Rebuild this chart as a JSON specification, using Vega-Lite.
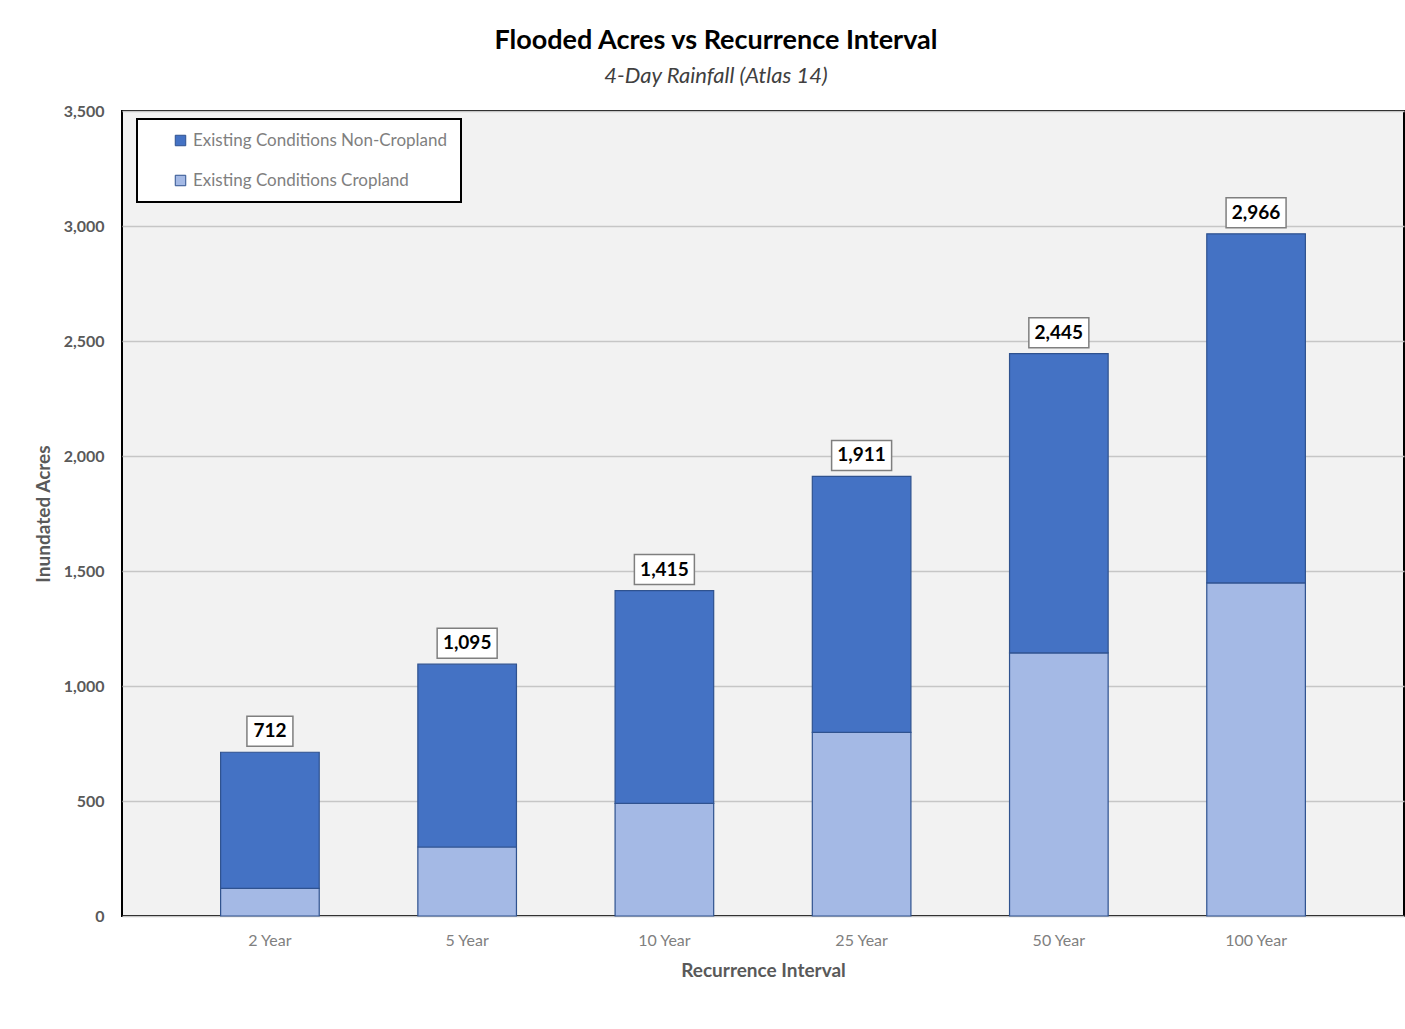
{
  "$schema": "https://vega.github.io/schema/vega-lite/v6.json",
  "autosize": {"type": "none"},
  "width": 1282,
  "height": 805,
  "padding": {"left": 122, "top": 111, "right": 1, "bottom": 113},
  "background": "white",
  "title": {
    "text": "Flooded Acres vs Recurrence Interval",
    "subtitle": "4-Day Rainfall (Atlas 14)",
    "anchor": "middle",
    "frame": "group",
    "dx": -47,
    "offset": 15,
    "font": "Lato",
    "fontSize": 27,
    "fontWeight": "bold",
    "color": "#000000",
    "subtitleFont": "Lato",
    "subtitleFontSize": 22,
    "subtitleFontStyle": "italic",
    "subtitleColor": "#404040",
    "subtitlePadding": 11
  },
  "config": {
    "view": {"fill": "#f2f2f2", "stroke": "#000000", "strokeWidth": 2}
  },
  "datasets": {
    "bars": [
      {"interval": "2 Year", "category": "Existing Conditions Cropland", "acres": 120},
      {"interval": "2 Year", "category": "Existing Conditions Non-Cropland", "acres": 592},
      {"interval": "5 Year", "category": "Existing Conditions Cropland", "acres": 300},
      {"interval": "5 Year", "category": "Existing Conditions Non-Cropland", "acres": 795},
      {"interval": "10 Year", "category": "Existing Conditions Cropland", "acres": 490},
      {"interval": "10 Year", "category": "Existing Conditions Non-Cropland", "acres": 925},
      {"interval": "25 Year", "category": "Existing Conditions Cropland", "acres": 798},
      {"interval": "25 Year", "category": "Existing Conditions Non-Cropland", "acres": 1113},
      {"interval": "50 Year", "category": "Existing Conditions Cropland", "acres": 1144},
      {"interval": "50 Year", "category": "Existing Conditions Non-Cropland", "acres": 1301},
      {"interval": "100 Year", "category": "Existing Conditions Cropland", "acres": 1448},
      {"interval": "100 Year", "category": "Existing Conditions Non-Cropland", "acres": 1518}
    ],
    "totals": [
      {"interval": "2 Year", "total": 712},
      {"interval": "5 Year", "total": 1095},
      {"interval": "10 Year", "total": 1415},
      {"interval": "25 Year", "total": 1911},
      {"interval": "50 Year", "total": 2445},
      {"interval": "100 Year", "total": 2966}
    ]
  },
  "layer": [
    {
      "data": {"name": "bars"},
      "mark": {"type": "bar", "stroke": "#2f528f", "strokeWidth": 1.2},
      "encoding": {
        "x": {
          "field": "interval",
          "type": "nominal",
          "sort": ["2 Year", "5 Year", "10 Year", "25 Year", "50 Year", "100 Year"],
          "scale": {"paddingInner": 0.5, "paddingOuter": 0.5},
          "title": "Recurrence Interval",
          "axis": {
            "labelAngle": 0,
            "labelFont": "Lato",
            "labelFontSize": 16,
            "labelColor": "#808080",
            "labelPadding": 16,
            "ticks": false,
            "domain": false,
            "grid": false,
            "titleFont": "Lato",
            "titleFontSize": 19,
            "titleFontWeight": "bold",
            "titleColor": "#595959",
            "titlePadding": 13
          }
        },
        "y": {
          "field": "acres",
          "type": "quantitative",
          "stack": "zero",
          "scale": {"domain": [0, 3500], "nice": false},
          "title": "Inundated Acres",
          "axis": {
            "values": [0, 500, 1000, 1500, 2000, 2500, 3000, 3500],
            "format": ",.0f",
            "labelFont": "Lato",
            "labelFontSize": 16,
            "labelFontWeight": "bold",
            "labelColor": "#595959",
            "labelPadding": 18,
            "ticks": false,
            "domain": false,
            "grid": true,
            "gridColor": "#c6c6c6",
            "gridWidth": 1.5,
            "titleFont": "Lato",
            "titleFontSize": 19,
            "titleFontWeight": "bold",
            "titleColor": "#595959",
            "titlePadding": 10
          }
        },
        "color": {
          "field": "category",
          "type": "nominal",
          "scale": {
            "domain": ["Existing Conditions Non-Cropland", "Existing Conditions Cropland"],
            "range": ["#4472c4", "#a4b9e5"]
          },
          "legend": {
            "orient": "none",
            "legendX": 15,
            "legendY": 8,
            "title": null,
            "fillColor": "white",
            "strokeColor": "#000000",
            "padding": 13,
            "symbolType": "square",
            "symbolSize": 110,
            "symbolStrokeWidth": 1,
            "symbolStrokeColor": "#2f528f",
            "labelFont": "Lato",
            "labelFontSize": 17,
            "labelColor": "#7f7f7f",
            "labelLimit": 400,
            "labelExpr": "datum.label + '\u00a0\u00a0\u00a0'",
            "rowPadding": 22,
            "symbolOffset": 22,
            "labelOffset": 4,
            "encode": {"legend": {"update": {"strokeWidth": {"value": 2}}}}
          }
        },
        "order": {"field": "category", "sort": "ascending"}
      }
    },
    {
      "data": {"name": "totals"},
      "mark": {"type": "bar", "fill": "white", "stroke": "#7f7f7f", "strokeWidth": 1.5, "yOffset": -36, "y2Offset": -6},
      "encoding": {
        "x": {"field": "interval", "type": "nominal", "sort": ["2 Year", "5 Year", "10 Year", "25 Year", "50 Year", "100 Year"]},
        "y": {"field": "total", "type": "quantitative"},
        "y2": {"field": "total"},
        "size": {"condition": {"test": "datum.total < 1000", "value": 46}, "value": 60}
      }
    },
    {
      "data": {"name": "totals"},
      "mark": {"type": "text", "dy": -21, "font": "Lato", "fontSize": 19, "fontWeight": "bold", "color": "#000000", "baseline": "middle", "align": "center"},
      "encoding": {
        "x": {"field": "interval", "type": "nominal", "sort": ["2 Year", "5 Year", "10 Year", "25 Year", "50 Year", "100 Year"]},
        "y": {"field": "total", "type": "quantitative"},
        "text": {"field": "total", "type": "quantitative", "format": ","}
      }
    }
  ]
}
